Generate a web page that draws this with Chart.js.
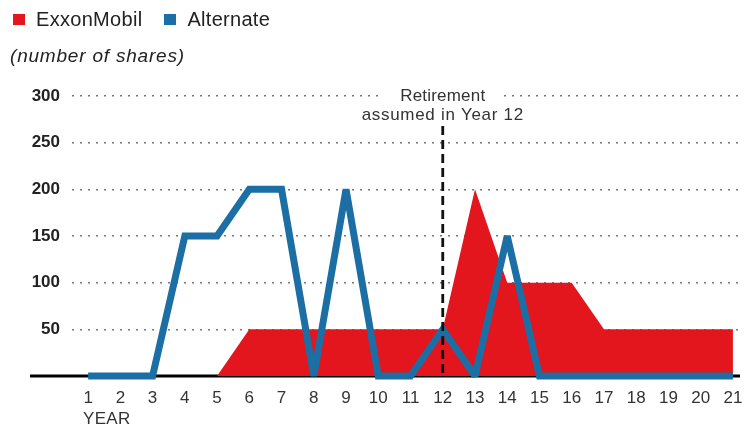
<!DOCTYPE html>
<html lang="en">
<head>
  <meta charset="UTF-8">
  <title>ExxonMobil vs Alternate</title>
  <script src="https://cdn.jsdelivr.net/npm/chart.js"></script>
  <style>
    body {
      margin: 0;
      background: #fff;
      font-family: "Liberation Sans", Arial, sans-serif;
      color: #222;
    }
    #wrap {
      position: relative;
      width: 749px;
      height: 428px;
    }
    .legend {
      position: absolute;
      top: 8px;
      left: 13px;
      font-size: 20px;
      letter-spacing: 0.3px;
      display: flex;
      align-items: center;
    }
    .legend span.box {
      display: inline-block;
      width: 12px;
      height: 11px;
      margin-right: 11px;
    }
    .legend span.item {
      display: flex;
      align-items: center;
      margin-right: 22px;
    }
    .units {
      position: absolute;
      top: 45px;
      left: 10px;
      font-size: 19px;
      font-style: italic;
      letter-spacing: 0.8px;
    }
    canvas { position: absolute; top: 0; left: 0; }
  </style>
</head>
<body>
  <div id="wrap">
    <canvas id="sharesChart" width="749" height="428"></canvas>
    <div class="legend">
      <span class="item"><span class="box" style="background:#e3161d"></span>ExxonMobil</span>
      <span class="item"><span class="box" style="background:#1b6fa5"></span>Alternate</span>
    </div>
    <div class="units">(number of shares)</div>
  </div>

  <script>
    const years = [1, 2, 3, 4, 5, 6, 7, 8, 9, 10, 11, 12, 13, 14, 15, 16, 17, 18, 19, 20, 21];
    const exxonShares = [0, 0, 0, 0, 0, 50, 50, 50, 50, 50, 50, 50, 200, 100, 100, 100, 50, 50, 50, 50, 50];
    const alternateShares = [0, 0, 0, 150, 150, 200, 200, 0, 200, 0, 0, 50, 0, 150, 0, 0, 0, 0, 0, 0, 0];
    const yTicks = [0, 50, 100, 150, 200, 250, 300];
    const retirementYear = 12;

    const RED = '#e3161d';
    const BLUE = '#1b6fa5';
    const FONT = '"Liberation Sans", Arial, sans-serif';

    // baseline, retirement marker and "YEAR" caption
    const extras = {
      id: 'extras',
      beforeDatasetsDraw(chart) {
        const { ctx, chartArea, scales } = chart;
        const y0 = scales.y.getPixelForValue(0);
        ctx.save();
        ctx.strokeStyle = '#000';
        ctx.lineWidth = 3;
        ctx.beginPath();
        ctx.moveTo(30, y0);
        ctx.lineTo(chartArea.right, y0);
        ctx.stroke();
        ctx.restore();
        // keep the sharp V turns of the blue line from spiking
        ctx.miterLimit = 2;
      },
      afterDatasetsDraw(chart) {
        const { ctx, scales } = chart;
        ctx.miterLimit = 10;
        const x = scales.x.getPixelForValue(retirementYear);
        const y0 = scales.y.getPixelForValue(0);
        const yTop = scales.y.getPixelForValue(300);
        ctx.save();
        ctx.strokeStyle = '#111';
        ctx.lineWidth = 2.8;
        ctx.setLineDash([9, 5]);
        ctx.beginPath();
        ctx.moveTo(x, yTop + 30);
        ctx.lineTo(x, y0);
        ctx.stroke();
        ctx.setLineDash([]);

        ctx.font = '17px ' + FONT;
        ctx.textAlign = 'center';
        ctx.textBaseline = 'middle';
        ctx.fillStyle = '#fff';
        ctx.fillRect(x - 60, yTop - 10, 120, 20);
        ctx.fillStyle = '#333';
        ctx.letterSpacing = '0.2px';
        ctx.fillText('Retirement', x, yTop);
        ctx.letterSpacing = '0.7px';
        ctx.fillText('assumed in Year 12', x, yTop + 19);

        ctx.letterSpacing = '0.3px';
        ctx.textAlign = 'left';
        ctx.fillText('YEAR', 83, 419);
        ctx.restore();
      }
    };

    const ctx = document.getElementById('sharesChart').getContext('2d');
    new Chart(ctx, {
      type: 'line',
      data: {
        labels: years,
        datasets: [
          {
            label: 'Alternate',
            data: years.map((yr, i) => ({ x: yr, y: alternateShares[i] })),
            borderColor: BLUE,
            borderWidth: 7,
            borderJoinStyle: 'miter',
            pointRadius: 0,
            fill: false,
            tension: 0,
            clip: false,
            order: 0
          },
          {
            label: 'ExxonMobil',
            data: years.map((yr, i) => ({ x: yr, y: exxonShares[i] })),
            borderWidth: 0,
            backgroundColor: RED,
            pointRadius: 0,
            fill: 'origin',
            tension: 0,
            order: 1
          }
        ]
      },
      options: {
        responsive: false,
        animation: false,
        layout: { padding: { top: 96, right: 9, left: 0, bottom: 0 } },
        plugins: {
          legend: { display: false },
          tooltip: { enabled: false }
        },
        scales: {
          x: {
            type: 'linear',
            min: 0.5,
            max: 21.22,
            afterBuildTicks: scale => { scale.ticks = years.map(v => ({ value: v })); },
            afterFit: scale => {
              scale.height = 52;
              scale.paddingLeft = 0;
              scale.paddingRight = 0;
            },
            grid: { display: false, drawTicks: false },
            border: { display: false },
            ticks: {
              padding: 12,
              color: '#333',
              font: { size: 17, family: FONT },
              maxRotation: 0,
              autoSkip: false
            }
          },
          y: {
            min: 0,
            max: 300,
            afterBuildTicks: scale => { scale.ticks = yTicks.map(v => ({ value: v })); },
            afterFit: scale => {
              scale.width = 72;
              scale.paddingTop = 0;
              scale.paddingBottom = 0;
            },
            grid: {
              drawTicks: false,
              color: ctx => ctx.tick && ctx.tick.value === 0 ? 'rgba(0,0,0,0)' : '#777',
              lineWidth: 1.5
            },
            border: { display: false, dash: [2, 6] },
            ticks: {
              padding: 12,
              color: '#222',
              font: { size: 17, weight: 'bold', family: FONT },
              callback: v => v === 0 ? '' : v
            }
          }
        }
      },
      plugins: [extras]
    });
  </script>
</body>
</html>
